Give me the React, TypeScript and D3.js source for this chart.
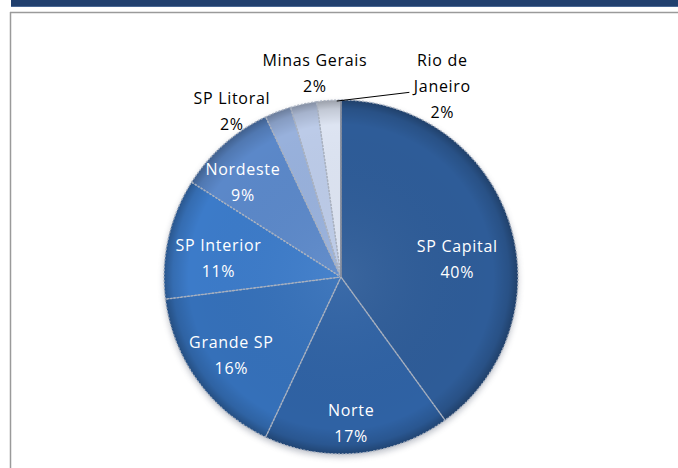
import React, { useMemo } from 'react';
import * as d3 from 'd3';

// Data (share of total, %)
const regions = ['SP Capital', 'Norte', 'Grande SP', 'SP Interior', 'Nordeste', 'SP Litoral', 'Minas Gerais', 'Rio de Janeiro'];
const shares = [40, 17, 16, 11, 9, 2.4, 2.4, 2.2];
const percentLabels = ['40%', '17%', '16%', '11%', '9%', '2%', '2%', '2%'];
const nameLines = [['SP Capital'], ['Norte'], ['Grande SP'], ['SP Interior'], ['Nordeste'], ['SP Litoral'], ['Minas Gerais'], ['Rio de', 'Janeiro']];
const sliceColors = ['#2e5c98', '#2f62a4', '#3570b9', '#3c7bc9', '#5b88c9', '#98b1dc', '#bccbe8', '#dde4f2'];

// label placement (polar: degrees clockwise from 12 o'clock, distance as fraction of radius)
const labelAngle = [81, 176, 234.6, 278.6, 314, 326.6, 352.7, 28];
const labelDist = [0.665, 0.825, 0.76, 0.70, 0.77, 1.12, 1.16, 1.22];
const labelInside = [true, true, true, true, true, false, false, false];

const W = 678;
const H = 468;
const cx = 341;
const cy = 277;
const radius = 177;
const lineGap = 26;

export default function App() {
  const arcs = useMemo(() => {
    const pie = d3.pie<number>().sort(null).value(d => d).startAngle(0).endAngle(Math.PI * 2);
    return pie(shares);
  }, []);

  const arc = d3.arc<d3.PieArcDatum<number>>().innerRadius(0).outerRadius(radius);

  const polar = (deg: number, dist: number): [number, number] => {
    const a = (deg * Math.PI) / 180;
    return [cx + Math.sin(a) * dist, cy - Math.cos(a) * dist];
  };

  // leader line for Rio de Janeiro
  const rio = arcs[7];
  const rioMid = (rio.startAngle + rio.endAngle) / 2;
  const leadStart: [number, number] = [cx + Math.sin(rioMid + 0.045) * (radius - 1), cy - Math.cos(rioMid + 0.045) * (radius - 1)];
  const rioLabel = polar(labelAngle[7], labelDist[7] * radius);
  const leadEnd: [number, number] = [rioLabel[0] - 33, rioLabel[1] + 6];

  return (
    <svg width={W} height={H} style={{ position: 'fixed', left: 0, top: 0, background: '#fff' }}
      fontFamily="'Open Sans', 'Noto Sans', sans-serif">
      <defs>
        <radialGradient id="rim" cx={0} cy={0} r={radius} gradientUnits="userSpaceOnUse">
          <stop offset="0%" stopColor="#fff" stopOpacity={0.06} />
          <stop offset="86%" stopColor="#000" stopOpacity={0} />
          <stop offset="95%" stopColor="#000" stopOpacity={0.12} />
          <stop offset="100%" stopColor="#000" stopOpacity={0.3} />
        </radialGradient>
        <filter id="shadow" x="-20%" y="-20%" width="140%" height="140%">
          <feGaussianBlur stdDeviation="3" />
        </filter>
      </defs>

      {/* header band and frame */}
      <rect x={11} y={0} width={W - 11} height={7} fill="#21406e" />
      <rect x={11} y={6} width={W - 11} height={1} fill="#4a6894" />
      <line x1={10} x2={W} y1={12.5} y2={12.5} stroke="#9a9a9a" strokeWidth={1.5} />
      <line x1={10.5} x2={10.5} y1={12} y2={H} stroke="#9a9a9a" strokeWidth={1.5} />

      <g transform={`translate(${cx},${cy})`}>
        {/* soft shadow under the pie */}
        <circle cx={0} cy={3} r={radius} fill="#6d7486" opacity={0.45} filter="url(#shadow)" />
        {arcs.map((a, i) => (
          <path key={regions[i]} d={arc(a) || ''} fill={sliceColors[i]} />
        ))}
        <circle cx={0} cy={0} r={radius} fill="url(#rim)" />
        {arcs.map((a, i) => (
          <path key={'e' + regions[i]} d={arc(a) || ''} fill="none" stroke="#a9b1bf"
            strokeWidth={1.3} strokeDasharray="2,1.5" strokeLinejoin="round" />
        ))}
        {/* darker separator at the 12 o'clock edge */}
        <line x1={0} x2={0} y1={0} y2={-radius} stroke="#7c8596" strokeWidth={1.5} />
      </g>

      {/* leader line */}
      <polyline points={[leadStart, leadEnd].map(p => p.join(',')).join(' ')} fill="none" stroke="#000" strokeWidth={1} />

      {/* labels */}
      {arcs.map((a, i) => {
        const [lx, ly] = polar(labelAngle[i], labelDist[i] * radius);
        const lines = [...nameLines[i], percentLabels[i]];
        const top = ly - ((lines.length - 1) * lineGap) / 2;
        return (
          <text key={'l' + regions[i]} x={lx} textAnchor="middle" fontSize={16} letterSpacing={0.7}
            fill={labelInside[i] ? '#ffffff' : '#000000'}>
            {lines.map((t, j) => (
              <tspan key={j} x={lx} y={top + j * lineGap} dominantBaseline="central">{t}</tspan>
            ))}
          </text>
        );
      })}
    </svg>
  );
}
